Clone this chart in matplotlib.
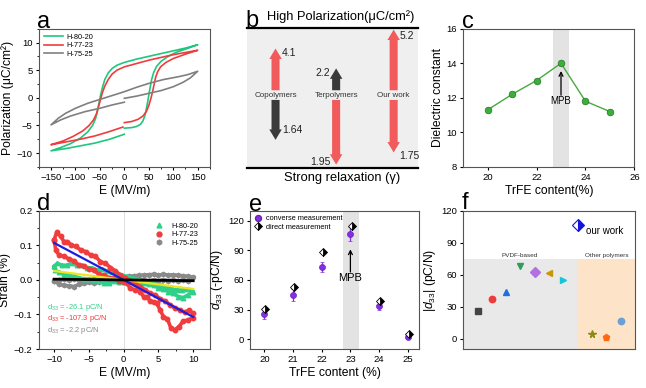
import matplotlib
matplotlib.use('Agg')
import matplotlib.pyplot as plt
from matplotlib.lines import Line2D
from matplotlib.ticker import MultipleLocator
import numpy as np

plt.rcParams.update({
    'font.family': ['Liberation Sans', 'DejaVu Sans'],
    'mathtext.fontset': 'custom',
    'mathtext.rm': 'Liberation Sans',
    'mathtext.it': 'Liberation Sans:italic',
    'font.size': 7,
    'axes.labelsize': 8.7,
    'xtick.labelsize': 6.8,
    'ytick.labelsize': 6.8,
    'xtick.direction': 'out',
    'ytick.direction': 'out',
    'xtick.major.size': 2.5,
    'ytick.major.size': 2.5,
    'xtick.minor.size': 1.5,
    'ytick.minor.size': 1.5,
    'xtick.major.pad': 2,
    'ytick.major.pad': 2,
    'axes.linewidth': 0.8,
    'axes.edgecolor': '#555555',
    'axes.labelpad': 2,
})

# ---------- data ----------
# (a) P-E loops
pe_labels = ['H-80-20', 'H-77-23', 'H-75-25']
pe_colors = ['#1fc77e', '#f03c3c', '#808080']
h80_E = [0, 15, 25, 33, 38, 42, 45, 48, 50, 53, 56, 60, 66, 75, 88, 105, 125, 150,
         125, 100, 75, 50, 25, 0, -15, -25, -33, -40, -45, -49, -52, -55, -59, -65, -75, -90, -110, -130, -150,
         -120, -90, -60, -30, 0]
h80_P = [-5.5, -5.4, -5.2, -4.8, -4.2, -3.2, -2.0, -0.6, 0.5, 2.0, 3.4, 4.6, 5.7, 6.6, 7.4, 8.2, 8.8, 9.6,
         9.0, 8.5, 8.0, 7.5, 7.0, 6.4, 5.9, 5.3, 4.5, 3.3, 1.8, 0.3, -1.0, -2.4, -3.8, -5.0, -6.2, -7.3, -8.3, -9.0, -9.6,
         -9.2, -8.7, -8.2, -7.5, -6.6]
h77_E = [0, 15, 28, 38, 45, 50, 54, 58, 61, 64, 68, 74, 85, 100, 125, 150,
         125, 100, 75, 50, 25, 0, -15, -25, -33, -40, -45, -49, -53, -57, -63, -72, -85, -105, -125, -150,
         -120, -90, -60, -30, -3]
h77_P = [-4.5, -4.3, -3.9, -3.3, -2.5, -1.4, -0.2, 1.2, 2.5, 3.7, 4.7, 5.6, 6.4, 7.1, 7.9, 8.6,
         8.2, 7.8, 7.3, 6.8, 6.2, 5.6, 5.0, 4.3, 3.3, 2.1, 0.9, -0.4, -1.7, -2.9, -4.0, -5.0, -6.0, -7.0, -7.8, -8.5,
         -8.0, -7.5, -6.9, -6.1, -5.3]
h75_E = [0, 25, 50, 75, 100, 120, 135, 150,
         130, 110, 80, 50, 25, 0, -25, -50, -75, -100, -120, -135, -150,
         -130, -110, -80, -50, -25, 0]
h75_P = [-0.1, 0.3, 0.8, 1.3, 2.0, 2.8, 3.6, 4.8,
         4.2, 3.8, 3.3, 2.6, 1.9, 1.1, 0.4, -0.3, -1.0, -1.9, -2.8, -3.7, -4.9,
         -4.0, -3.3, -2.5, -1.9, -1.3, -0.8]

# (b) polarization / relaxation comparison
b_groups = ['Copolymers', 'Terpolymers', 'Our work']
b_pol = ['4.1', '2.2', '5.2']
b_relax = ['1.64', '1.95', '1.75']
b_up_tip = [0.853, 0.711, 0.988]
b_down_tip = [0.201, 0.024, 0.111]
b_up_color = ['#f25b5b', '#3a3a3a', '#f25b5b']
b_down_color = ['#3a3a3a', '#f25b5b', '#f25b5b']

# (c) dielectric constant
trfe = [20, 21, 22, 23, 24, 25]
eps_r = [11.3, 12.2, 13.0, 14.0, 11.8, 11.2]

# (d) strain loops
h80_Es = [-10, -9.52, -8.81, -8.1, -7.38, -6.67, -5.95, -5.24, -4.52, -3.81, -3.1, -2.38, -1.67, -0.95, -0.24,
          0.48, 1.19, 1.9, 2.62, 3.33, 4.05, 4.76, 5.48, 6.19, 6.9, 7.62, 8.33, 9.05, 9.76, 10,
          9.29, 8.57, 7.86, 7.14, 6.43, 5.71, 5.0, 4.29, 3.57, 2.86, 2.14, 1.43, 0.71, 0, -0.71,
          -1.43, -2.14, -2.86, -3.57, -4.29, -5.0, -5.71, -6.43, -7.14, -7.86, -8.57, -9.29, -9.9, -10]
h80_S = [0.039, 0.048, 0.042, 0.043, 0.048, 0.042, 0.042, 0.036, 0.035, 0.029, 0.032, 0.026, 0.022, 0.019, 0.014,
         0.01, 0.007, 0.003, -0.003, -0.007, -0.01, -0.014, -0.016, -0.022, -0.026, -0.029, -0.029, -0.026, -0.029, -0.034,
         -0.043, -0.051, -0.048, -0.039, -0.034, -0.026, -0.022, -0.014, -0.013, -0.01, -0.01, -0.007, -0.007, -0.005, -0.007,
         -0.003, -0.01, -0.008, -0.003, 0.0, 0.003, 0.003, 0.007, 0.01, 0.014, 0.016, 0.022, 0.029, 0.039]
h77_Es = [-10, -9.62, -9.05, -8.57, -8.1, -7.52, -6.9, -6.19, -5.48, -4.76, -4.05, -3.33, -2.62, -1.9, -1.19, -0.48,
          0.24, 0.95, 1.67, 2.38, 3.1, 3.81, 4.52, 5.24, 5.95, 6.67, 7.38, 8.1, 8.81, 9.43, 9.9, 10,
          9.29, 8.57, 7.95, 7.33, 6.76, 6.29, 5.71, 5.24, 4.76, 4.29, 3.81, 3.33, 2.86, 2.38, 1.67,
          0.95, 0.48, 0, -0.71, -1.43, -2.14, -2.86, -3.57, -4.29, -5.0, -5.71, -6.43, -7.14, -7.86, -8.57,
          -9.29, -9.76, -10]
h77_S = [0.116, 0.138, 0.126, 0.111, 0.111, 0.101, 0.097, 0.087, 0.082, 0.072, 0.068, 0.053, 0.048, 0.036, 0.026, 0.014,
         0.007, -0.003, -0.013, -0.019, -0.029, -0.039, -0.043, -0.055, -0.061, -0.072, -0.082, -0.087, -0.094, -0.087, -0.097, -0.109,
         -0.116, -0.119, -0.135, -0.145, -0.138, -0.113, -0.106, -0.087, -0.068, -0.063, -0.061, -0.048, -0.048, -0.034, -0.029,
         -0.024, -0.01, -0.007, -0.003, 0.005, 0.007, 0.014, 0.016, 0.029, 0.032, 0.039, 0.043, 0.055, 0.061, 0.068,
         0.072, 0.087, 0.116]
h75_Es = [-10, -9.29, -8.57, -7.86, -7.14, -6.43, -5.71, -5.0, -4.29, -3.57, -2.86, -2.14, -1.43, -0.71, 0,
          0.71, 1.43, 2.14, 2.86, 3.57, 4.29, 5.0, 5.71, 6.43, 7.14, 7.86, 8.57, 9.29, 10,
          9.29, 8.57, 7.86, 7.14, 6.43, 5.71, 5.0, 4.29, 3.57, 2.86, 2.14, 1.43, 0.71, 0,
          -0.71, -1.43, -2.14, -2.86, -3.57, -4.29, -5.0, -5.71, -6.43, -7.14, -7.86, -8.57, -9.29, -10]
h75_S = [-0.003, -0.012, -0.016, -0.017, -0.019, -0.013, -0.010, -0.007, -0.009, -0.006, -0.004, -0.001, 0.003, 0.004, 0.007,
         0.010, 0.012, 0.013, 0.014, 0.015, 0.016, 0.014, 0.016, 0.014, 0.015, 0.013, 0.012, 0.010, 0.008,
         -0.004, 0.0, -0.003, 0.0, -0.002, 0.001, -0.002, 0.0, -0.003, 0.0, 0.002, -0.001, 0.002, 0.0,
         0.003, 0.0, 0.002, 0.004, 0.001, 0.003, 0.0, 0.003, 0.001, 0.003, 0.0, 0.002, 0.001, -0.003]
d33_fit = [-26.1, -107.3, -2.2]   # pC/N
fit_colors = ['#f2e41c', '#1d1de0', '#000000']
strain_colors = ['#2fd08a', '#f03c3c', '#8a8a8a']
strain_markers = ['^', 'o', 'h']

# (e) d33 vs TrFE
d33_conv = [25.7, 45.0, 72.7, 106.5, 33.8, 2.4]
d33_conv_err = [5, 6, 5, 7, 4, 1.5]
d33_direct = [30.8, 53.0, 87.9, 114.6, 38.2, 5.0]

# (f) literature comparison
lit_x = [1, 2, 3, 4, 5, 6, 7, 9, 10, 11]
lit_d33 = [26, 37.8, 44.4, 68, 63, 61.6, 55, 4.1, 1.9, 16.6]
lit_markers = ['s', 'o', '^', 'v', 'D', '<', '>', '*', 'p', 'o']
lit_colors = ['#444444', '#ee3b3b', '#1f6fe0', '#2e9e5e', '#b070e0', '#c8960a', '#12c8d8', '#8a8a10', '#ff6a10', '#6a9fd8']
our_x, our_d33 = 8, 106.6

fig = plt.figure(figsize=(6.46, 3.88), dpi=100)

def letter(x, y, s):
    fig.text(x, y, s, fontsize=17, va='baseline', ha='left')

# ---------- (a) ----------
ax = fig.add_axes([0.060, 0.570, 0.265, 0.356])
for E, P, c, lab in zip([h80_E, h77_E, h75_E], [h80_P, h77_P, h75_P], pe_colors, pe_labels):
    ax.plot(E, P, color=c, lw=1.2, label=lab)
ax.set_xlim(-175, 175)
ax.set_ylim(-12.5, 12.5)
ax.xaxis.set_major_locator(MultipleLocator(50))
ax.xaxis.set_minor_locator(MultipleLocator(25))
ax.yaxis.set_major_locator(MultipleLocator(5))
ax.yaxis.set_minor_locator(MultipleLocator(2.5))
ax.set_xlabel('E (MV/m)')
ax.set_ylabel('Polarization (μC/cm²)')
ax.legend(loc='upper left', frameon=False, fontsize=5.3, handlelength=2.6,
          labelspacing=0.15, borderaxespad=0.3, handletextpad=0.4)
letter(0.057, 0.928, 'a')

# ---------- (b) ----------
ax = fig.add_axes([0.382, 0.567, 0.265, 0.361])
ax.set_facecolor('#efefef')
ax.set_xlim(0, 1)
ax.set_ylim(0, 1)
ax.set_xticks([])
ax.set_yticks([])
for s in ['left', 'right']:
    ax.spines[s].set_visible(False)
for s in ['top', 'bottom']:
    ax.spines[s].set_linewidth(1.6)
    ax.spines[s].set_color('black')
bx = [0.168, 0.522, 0.858]
style = 'simple,head_length=0.75,head_width=0.9,tail_width=0.58'
for i, g in enumerate(b_groups):
    ax.annotate('', xy=(bx[i], b_up_tip[i]), xytext=(bx[i], 0.555),
                arrowprops=dict(arrowstyle=style, color=b_up_color[i], lw=0,
                                shrinkA=0, shrinkB=0, mutation_scale=10))
    ax.annotate('', xy=(bx[i], b_down_tip[i]), xytext=(bx[i], 0.486),
                arrowprops=dict(arrowstyle=style, color=b_down_color[i], lw=0,
                                shrinkA=0, shrinkB=0, mutation_scale=10))
    ax.text(bx[i], 0.517, g, ha='center', va='center', fontsize=5.8, color='#333333')
ax.text(0.205, 0.818, b_pol[0], ha='left', va='center', fontsize=7.5, color='#222222')
ax.text(0.205, 0.272, b_relax[0], ha='left', va='center', fontsize=7.5, color='#222222')
ax.text(0.488, 0.680, b_pol[1], ha='right', va='center', fontsize=7.5, color='#222222')
ax.text(0.490, 0.040, b_relax[1], ha='right', va='center', fontsize=7.5, color='#222222')
ax.text(0.895, 0.940, b_pol[2], ha='left', va='center', fontsize=7.5, color='#222222')
ax.text(0.890, 0.083, b_relax[2], ha='left', va='center', fontsize=7.5, color='#222222', clip_on=False)
fig.text(0.528, 0.948, 'High Polarization(μC/cm²)', ha='center', va='baseline', fontsize=9.3)
fig.text(0.529, 0.541, 'Strong relaxation (γ)', ha='center', va='center', fontsize=9.3)
letter(0.380, 0.930, 'b')

# ---------- (c) ----------
ax = fig.add_axes([0.717, 0.570, 0.265, 0.356])
ax.axvspan(22.68, 23.33, color='#e3e3e3', lw=0)
ax.plot(trfe, eps_r, color='#4aa83f', lw=1.0, marker='o', ms=4.8,
        mfc='#3cae3c', mec='#1f7a1f', mew=0.5)
ax.annotate('', xy=(23, 13.55), xytext=(23, 12.15),
            arrowprops=dict(arrowstyle='->', color='black', lw=0.9, shrinkA=0, shrinkB=0))
ax.text(23, 11.8, 'MPB', ha='center', va='center', fontsize=7)
ax.set_xlim(19, 26)
ax.set_ylim(8, 16)
ax.xaxis.set_major_locator(MultipleLocator(2))
ax.yaxis.set_major_locator(MultipleLocator(2))
ax.set_xlabel('TrFE content(%)')
ax.set_ylabel('Dielectric constant')
letter(0.715, 0.928, 'c')

# ---------- (d) ----------
ax = fig.add_axes([0.060, 0.1005, 0.265, 0.356])
ax.axvline(0, color='#d8d8d8', lw=0.6, zorder=0)
for E, S, c, m in zip([h75_Es, h80_Es, h77_Es], [h75_S, h80_S, h77_S],
                      [strain_colors[2], strain_colors[0], strain_colors[1]],
                      [strain_markers[2], strain_markers[0], strain_markers[1]]):
    ax.plot(E, S, color=c, lw=2.6, marker=m, ms=3.2, mec=c, zorder=2)
Efit = np.array([-10, 10])
for d, c in zip(d33_fit, fit_colors):
    ax.plot(Efit, d * 1e-4 * Efit, color=c, lw=1.6 if c != '#000000' else 2.0, zorder=3)
ax.set_xlim(-12.2, 12.4)
ax.set_ylim(-0.2, 0.2)
ax.xaxis.set_major_locator(MultipleLocator(5))
ax.xaxis.set_minor_locator(MultipleLocator(2.5))
ax.yaxis.set_major_locator(MultipleLocator(0.1))
ax.yaxis.set_minor_locator(MultipleLocator(0.05))
ax.set_xlabel('E (MV/m)')
ax.set_ylabel('Strain (%)')
handles = [Line2D([], [], ls='none', marker=m, color=c, ms=3.5)
           for m, c in zip(strain_markers, strain_colors)]
ax.legend(handles, pe_labels, loc='upper right', frameon=False, fontsize=5.3,
          handlelength=1.0, labelspacing=0.2, borderaxespad=1.2, handletextpad=1.2)
for k, (d, c) in enumerate(zip(d33_fit, strain_colors)):
    ax.text(-11.0, -0.081 - k * 0.032, 'd$_{33}$ = %.1f pC/N' % d, color=c, fontsize=5.4, va='center')
letter(0.057, 0.459, 'd')

# ---------- (e) ----------
ax = fig.add_axes([0.387, 0.1005, 0.262, 0.356])
ax.axvspan(22.74, 23.3, color='#e3e3e3', lw=0)
h_conv = ax.errorbar(trfe, d33_conv, yerr=d33_conv_err, fmt='o', color='#8330e0', ms=4.3,
                     mec='#6a1fc0', mew=0.5, elinewidth=0.9, capsize=1.5, zorder=3)
h_dir, = ax.plot(np.array(trfe) + 0.04, d33_direct, ls='none', marker='D', ms=4.0, fillstyle='right',
                 mfc='black', mfcalt='white', mec='black', mew=0.6, zorder=4)
ax.annotate('', xy=(23, 91), xytext=(23, 68),
            arrowprops=dict(arrowstyle='->', color='black', lw=0.9, shrinkA=0, shrinkB=0))
ax.text(23, 62, 'MPB', ha='center', va='center', fontsize=8)
ax.set_xlim(19.5, 25.4)
ax.set_ylim(-10, 130)
ax.set_xticks(trfe)
ax.yaxis.set_major_locator(MultipleLocator(30))
ax.set_xlabel('TrFE content (%)')
ax.set_ylabel('$d_{33}$ (-pC/N)')
conv_handle = Line2D([], [], ls='none', marker='o', color='#8330e0', mec='#6a1fc0', ms=4.3)
ax.legend([conv_handle, h_dir], ['converse measurement', 'direct measurement'],
          loc='upper left', frameon=False, fontsize=5.3, handlelength=1.0,
          labelspacing=0.15, borderaxespad=0.2, handletextpad=0.6)
letter(0.385, 0.456, 'e')

# ---------- (f) ----------
ax = fig.add_axes([0.717, 0.1005, 0.266, 0.356])
ax.fill_between([0, 7.93], -9.5, 75, color='#e9e9e9', lw=0)
ax.fill_between([7.93, 12], -9.5, 75, color='#fde4c9', lw=0)
for x, v, m, c in zip(lit_x, lit_d33, lit_markers, lit_colors):
    ax.plot(x, v, ls='none', marker=m, ms=5.5 if m == '*' else 4.6, color=c, mec=c)
ax.plot(our_x, our_d33, ls='none', marker='D', ms=6.5, fillstyle='right',
        mfc='#1414e0', mfcalt='white', mec='#1414e0', mew=0.8)
ax.text(8.6, 101, 'our work', fontsize=7, va='center')
ax.text(3.96, 78.5, 'PVDF-based', fontsize=4.6, ha='center', va='center', color='#333333')
ax.text(10.0, 78.5, 'Other polymers', fontsize=4.6, ha='center', va='center', color='#333333')
ax.set_xlim(0, 12)
ax.set_ylim(-9.5, 120)
ax.set_xticks([])
ax.yaxis.set_major_locator(MultipleLocator(30))
ax.set_ylabel('|$d_{33}$| (pC/N)')
letter(0.715, 0.462, 'f')

fig.savefig('out.png', dpi=100)
